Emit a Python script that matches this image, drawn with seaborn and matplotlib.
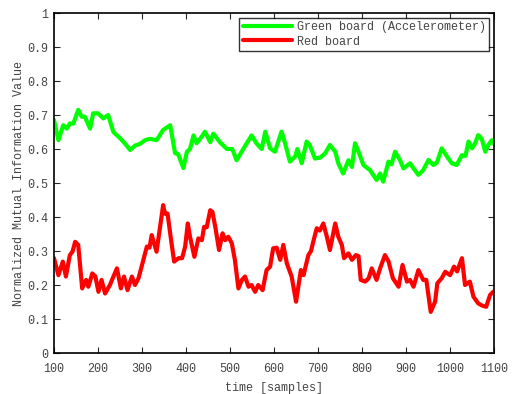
import pandas as pd
import matplotlib
matplotlib.use("Agg")
import matplotlib.pyplot as plt
import seaborn as sns

#Data
green_t = [100, 110, 121, 129, 136, 144, 155, 163, 170, 182, 189, 200, 212, 223, 235, 250,
           262, 273, 284, 295, 307, 318, 333, 348, 364, 375, 382, 394, 402, 409, 417, 424,
           435, 443, 455, 462, 477, 493, 505, 515, 530, 549, 561, 572, 580, 591, 602, 617,
           625, 636, 648, 653, 663, 674, 681, 693, 705, 716, 727, 739, 746, 757, 769, 777,
           784, 792, 803, 818, 833, 841, 848, 860, 867, 875, 886, 894, 909, 917, 928, 939,
           951, 962, 970, 981, 993, 1004, 1015, 1027, 1035, 1042, 1050, 1057, 1064, 1072,
           1080, 1087, 1095, 1100]
green_v = [0.685, 0.626, 0.67, 0.66, 0.675, 0.675, 0.715, 0.695, 0.695, 0.66, 0.705, 0.705,
           0.69, 0.70, 0.65, 0.632, 0.615, 0.597, 0.61, 0.615, 0.626, 0.63, 0.626, 0.656,
           0.67, 0.588, 0.585, 0.544, 0.592, 0.6, 0.64, 0.617, 0.635, 0.651, 0.62, 0.645,
           0.62, 0.6, 0.6, 0.567, 0.6, 0.64, 0.615, 0.6, 0.651, 0.602, 0.592, 0.651, 0.617,
           0.563, 0.578, 0.6, 0.558, 0.622, 0.612, 0.572, 0.575, 0.587, 0.612, 0.592, 0.558,
           0.528, 0.567, 0.547, 0.617, 0.592, 0.553, 0.538, 0.509, 0.528, 0.504, 0.563,
           0.555, 0.592, 0.568, 0.543, 0.558, 0.543, 0.524, 0.538, 0.568, 0.553, 0.56, 0.602,
           0.578, 0.558, 0.553, 0.582, 0.58, 0.622, 0.602, 0.617, 0.641, 0.63, 0.592, 0.612,
           0.626, 0.615]

red_t = [100, 110, 120, 127, 136, 142, 148, 155, 164, 173, 178, 187, 194, 201, 208, 216,
         227, 235, 243, 252, 259, 267, 277, 284, 292, 299, 311, 317, 322, 333, 341, 348,
         352, 358, 367, 373, 383, 391, 398, 404, 409, 419, 428, 436, 441, 447, 455, 460,
         467, 475, 483, 489, 496, 504, 511, 519, 527, 534, 542, 549, 557, 564, 574, 583,
         591, 598, 606, 614, 621, 629, 640, 650, 661, 667, 678, 684, 689, 697, 704, 712,
         720, 727, 739, 746, 754, 759, 769, 777, 786, 792, 797, 807, 815, 822, 833, 841,
         852, 860, 870, 883, 892, 902, 909, 917, 928, 939, 946, 956, 966, 971, 981, 989,
         1000, 1009, 1016, 1027, 1034, 1045, 1053, 1064, 1072, 1082, 1091, 1098, 1100]
red_v = [0.279, 0.229, 0.269, 0.225, 0.288, 0.298, 0.327, 0.318, 0.19, 0.215, 0.195, 0.234,
         0.225, 0.18, 0.215, 0.175, 0.2, 0.225, 0.249, 0.19, 0.225, 0.185, 0.225, 0.2, 0.22,
         0.254, 0.313, 0.31, 0.347, 0.298, 0.371, 0.435, 0.41, 0.41, 0.323, 0.269, 0.279,
         0.279, 0.313, 0.381, 0.342, 0.283, 0.337, 0.332, 0.371, 0.37, 0.42, 0.415, 0.367,
         0.303, 0.352, 0.332, 0.342, 0.323, 0.274, 0.19, 0.215, 0.225, 0.195, 0.2, 0.18, 0.2,
         0.185, 0.244, 0.254, 0.308, 0.31, 0.274, 0.318, 0.264, 0.225, 0.151, 0.244, 0.229,
         0.288, 0.3, 0.327, 0.367, 0.36, 0.381, 0.342, 0.303, 0.381, 0.342, 0.318, 0.279,
         0.293, 0.274, 0.288, 0.285, 0.215, 0.21, 0.22, 0.249, 0.215, 0.249, 0.288, 0.27,
         0.22, 0.195, 0.259, 0.21, 0.215, 0.195, 0.244, 0.215, 0.215, 0.121, 0.151, 0.205,
         0.22, 0.239, 0.229, 0.254, 0.24, 0.279, 0.2, 0.21, 0.166, 0.146, 0.14, 0.136,
         0.171, 0.18, 0.178]

x_ticks = [100, 200, 300, 400, 500, 600, 700, 800, 900, 1000, 1100]
y_ticks = [0, 0.1, 0.2, 0.3, 0.4, 0.5, 0.6, 0.7, 0.8, 0.9, 1]
y_labels = ["0", "0.1", "0.2", "0.3", "0.4", "0.5", "0.6", "0.7", "0.8", "0.9", "1"]


def main():
    sns.set_style("ticks")
    plt.rcParams["font.family"] = ["Liberation Mono", "DejaVu Sans Mono"]

    green = pd.DataFrame({"t": green_t, "v": green_v})
    red = pd.DataFrame({"t": red_t, "v": red_v})

    fig = plt.figure(figsize=(5.12, 3.94), dpi=100)
    ax = fig.add_axes([0.1055, 0.104, 0.8595, 0.863])

    sns.lineplot(data=green, x="t", y="v", color="#00ff00", lw=3,
                 label="Green board (Accelerometer)", ax=ax)
    sns.lineplot(data=red, x="t", y="v", color="#ff0000", lw=3,
                 label="Red board", ax=ax)

    ax.set_xlim(100, 1100)
    ax.set_ylim(0, 1)
    ax.set_xticks(x_ticks)
    ax.set_yticks(y_ticks)
    ax.set_yticklabels(y_labels)
    ax.tick_params(direction="in", top=True, right=True, labelsize=8.5,
                   labelcolor="#444444", length=4, width=0.8)
    ax.tick_params(axis="x", pad=7)
    ax.tick_params(axis="y", pad=4)
    for sp in ax.spines.values():
        sp.set_visible(True)
        sp.set_linewidth(1.2)
        sp.set_color("black")

    ax.set_xlabel("time [samples]", fontsize=8.5, color="#444444", labelpad=5)
    ax.set_ylabel("Normalized Mutual Information Value", fontsize=8.5,
                  color="#444444", labelpad=2)

    leg = ax.legend(loc="upper right", fontsize=8.5, handlelength=4.2,
                    frameon=True, fancybox=False, borderaxespad=0.4,
                    borderpad=0.3, labelspacing=0.2, handletextpad=0.4)
    leg.get_frame().set_edgecolor("black")
    leg.get_frame().set_linewidth(1.0)
    for txt in leg.get_texts():
        txt.set_color("#444444")

    fig.savefig("out.png", dpi=100)


if __name__ == "__main__":
    main()
